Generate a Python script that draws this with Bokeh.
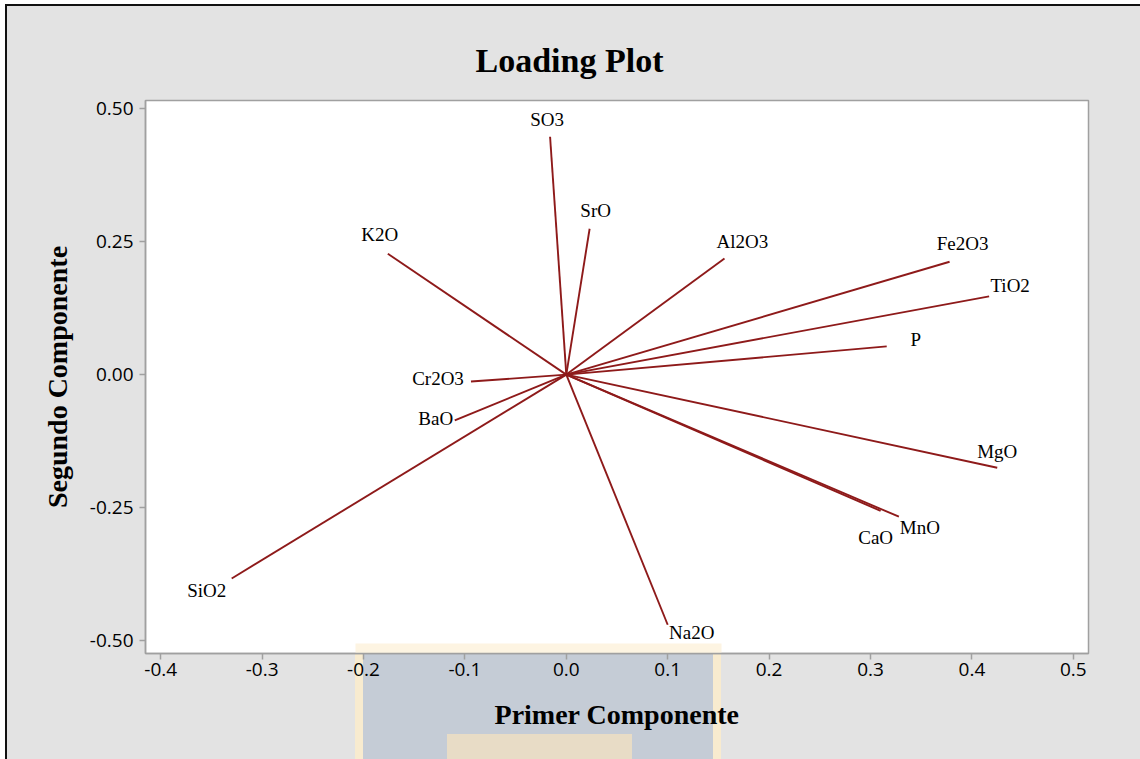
from bokeh.plotting import figure
from bokeh.models import Range1d, ColumnDataSource, FixedTicker, BoxAnnotation, NumeralTickFormatter
from bokeh.embed import file_html
from bokeh.resources import INLINE

# ---------------- data ----------------
variables = ["SO3", "SrO", "K2O", "Al2O3", "Fe2O3", "TiO2", "P",
             "Cr2O3", "BaO", "SiO2", "Na2O", "MgO", "CaO", "MnO"]
pc1 = [-0.016, 0.023, -0.176, 0.156, 0.378, 0.417, 0.316,
       -0.094, -0.110, -0.330, 0.100, 0.425, 0.310, 0.328]
pc2 = [0.447, 0.274, 0.227, 0.218, 0.212, 0.147, 0.053,
       -0.013, -0.086, -0.383, -0.470, -0.175, -0.256, -0.267]
x_ticks = [-0.4, -0.3, -0.2, -0.1, 0.0, 0.1, 0.2, 0.3, 0.4, 0.5]
y_ticks = [-0.50, -0.25, 0.00, 0.25, 0.50]

# label offsets in screen pixels (dx right, dy down)
label_dx = [-3, 6, -8, 18, 13, 21, 29, -33, -19, -25, 24, 0, -5, 21]
label_dy = [-17, -18, -19, -17, -18, -11, -7, -3, -2, 12, 8, -16, 27, 11]

W, H = 1140, 759
BG = "#e3e3e3"
LINE = "#8e1a1a"
SERIF = "Liberation Serif"


def rect(color, x, y, w, h):
    return f"linear-gradient({color},{color}) {x}px {y}px / {w}px {h}px no-repeat"


# page decoration behind the transparent canvas: outer frame + faint watermark
layers = [
    rect("#e8dcc6", 447, 734, 185, 30),
    rect("#c5ccd6", 363, 652, 350, 110),
    rect("#f8ebcf", 355, 643, 366, 120),
    rect("#111111", 5, 4, 2, H),
    rect("#111111", 5, 4, W, 2),
    rect(BG, 7, 6, W, H),
]

p = figure(width=W, height=H, output_backend="svg", toolbar_location=None,
           x_range=Range1d(-0.415, 0.515), y_range=Range1d(-0.524, 0.515),
           min_border_left=145, min_border_right=52, min_border_top=100,
           min_border_bottom=106, background_fill_color="white",
           border_fill_alpha=0, outline_line_color="#a0a0a0",
           outline_line_width=1.5,
           styles={"background": ", ".join(layers) + ", white"})

p.grid.visible = False

# title
p.title.text = "Loading Plot"
p.title.align = "left"
p.title.offset = 330
p.title.text_font = SERIF
p.title.text_font_size = "34px"
p.title.text_font_style = "bold"
p.title.text_color = "black"
p.title.standoff = 43

src = ColumnDataSource(dict(x0=[0.0] * len(pc1), y0=[0.0] * len(pc2),
                            x1=pc1, y1=pc2, name=variables,
                            dx=label_dx, dy=label_dy))
p.segment(x0="x0", y0="y0", x1="x1", y1="y1", source=src,
          line_color=LINE, line_width=1.9)
p.text(x="x1", y="y1", text="name", source=src, x_offset="dx", y_offset="dy",
       text_align="center", text_baseline="middle", text_font_size="19px",
       text_font={"value": SERIF}, text_color="black")

# part of the watermark that overlaps the plot frame
p.add_layout(BoxAnnotation(left=355, right=721, top=643, bottom=653,
                           left_units="canvas", right_units="canvas",
                           top_units="canvas", bottom_units="canvas",
                           fill_color="#fdf4e2", fill_alpha=1, line_color=None,
                           level="underlay"))

for ax in (p.xaxis[0], p.yaxis[0]):
    ax.axis_line_color = "#a0a0a0"
    ax.axis_line_width = 1.5
    ax.major_tick_line_color = "#a0a0a0"
    ax.major_tick_line_width = 1.5
    ax.major_tick_out = 6
    ax.major_tick_in = 0
    ax.minor_tick_line_color = None
    ax.major_label_text_font = "Open Sans"
    ax.major_label_text_font_size = "19px"
    ax.major_label_text_color = "black"
    ax.axis_label_text_font = SERIF
    ax.axis_label_text_font_size = "28px"
    ax.axis_label_text_font_style = "bold"
    ax.axis_label_text_color = "black"

p.xaxis.ticker = FixedTicker(ticks=x_ticks)
p.yaxis.ticker = FixedTicker(ticks=y_ticks)
p.xaxis.formatter = NumeralTickFormatter(format="0.0")
p.yaxis.formatter = NumeralTickFormatter(format="0.00")
p.xaxis.axis_label = "Primer Componente"
p.yaxis.axis_label = "Segundo Componente"
p.xaxis.major_label_standoff = 3
p.yaxis.major_label_standoff = 6
p.xaxis.axis_label_standoff = 20
p.yaxis.axis_label_standoff = 14

open("out.html", "w").write(file_html(p, INLINE))
